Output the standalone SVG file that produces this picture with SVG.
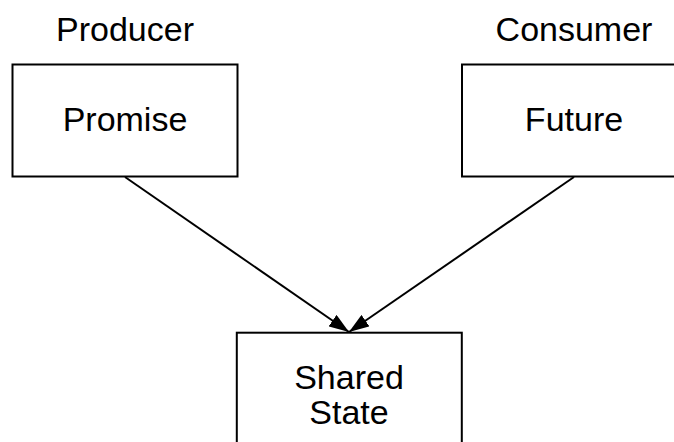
<svg xmlns="http://www.w3.org/2000/svg" width="674" height="442" viewBox="0 0 674 442">
<style>
.box{fill:#fff;stroke:#000;stroke-width:2}
.t{font-family:"Liberation Sans",Arial,sans-serif;font-size:34px;fill:#000;text-anchor:middle}
.c{stroke:#000;stroke-width:2;fill:none;marker-end:url(#ah)}
</style>
<defs>
<marker id="ah" markerWidth="20" markerHeight="14" refX="20" refY="7" orient="auto" markerUnits="userSpaceOnUse">
<path d="M0,0 L20,7 L0,14 Z" fill="#000"/>
</marker>
</defs>
<rect width="674" height="442" fill="#fff"/>
<text class="t" x="125" y="41">Producer</text>
<text class="t" x="574" y="41">Consumer</text>
<g id="promise">
<rect class="box" x="12.5" y="64.5" width="225" height="112"/>
<text class="t" x="125" y="131">Promise</text>
</g>
<g id="future">
<rect class="box" x="462" y="64.5" width="225" height="112"/>
<text class="t" x="574" y="131">Future</text>
</g>
<g id="shared">
<rect class="box" x="236.8" y="332.7" width="225" height="130"/>
<text class="t" x="349" y="389">Shared</text>
<text class="t" x="349" y="424">State</text>
</g>
<g id="connectors">
<line class="c" x1="125" y1="177" x2="349" y2="332"/>
<line class="c" x1="574" y1="177" x2="349" y2="332"/>
</g>
</svg>
